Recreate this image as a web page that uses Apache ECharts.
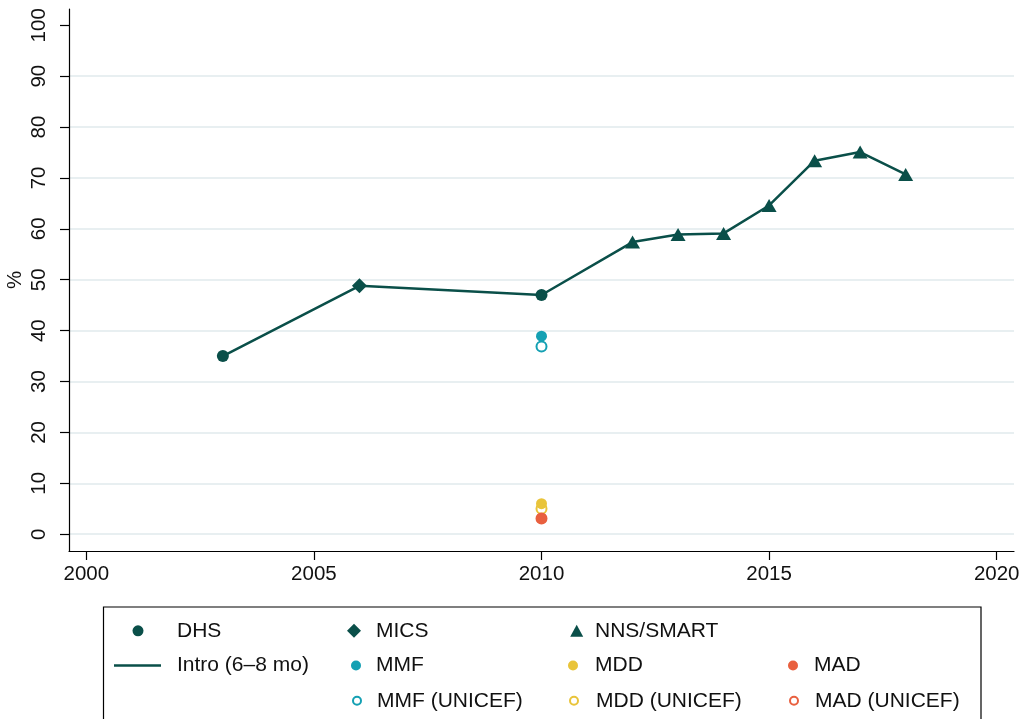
<!DOCTYPE html>
<html>
<head>
<meta charset="utf-8">
<script src="https://cdn.jsdelivr.net/npm/echarts@6/dist/echarts.min.js"></script>
<style>
  html, body { margin: 0; padding: 0; background: #fff; }
  #chart { width: 1021px; height: 719px; }
</style>
</head>
<body>
<div id="chart"></div>
<script>
// Survey estimates, [year, percent]
const dhs = [[2003, 35.0], [2010, 47.0]];
const mics = [[2006, 48.8]];
const nnsSmart = [[2012, 57.4], [2013, 58.9], [2014, 59.1], [2015, 64.6], [2016, 73.4], [2017, 75.1], [2018, 70.7]];
const mmf = [[2010, 38.9]];
const mmfUnicef = [[2010, 36.9]];
const mdd = [[2010, 6.0]];
const mddUnicef = [[2010, 5.0]];
const mad = [[2010, 3.1]];
const madUnicef = [[2010, 3.1]];

// Axis ticks
const xTicks = [2000, 2005, 2010, 2015, 2020];
const yTicks = [0, 10, 20, 30, 40, 50, 60, 70, 80, 90, 100];
const yTitle = '%';

// The introduction trend joins all DHS, MICS and NNS/SMART points in time order
const intro = dhs.concat(mics, nnsSmart).slice().sort((a, b) => a[0] - b[0]);

const DARK = '#0a4f49';
const CYAN = '#14a0b3';
const YELLOW = '#e9c43a';
const RED = '#e9603f';
const FONT = 'Liberation Sans, Arial, Helvetica, sans-serif';

const chart = echarts.init(document.getElementById('chart'), null, { renderer: 'canvas' });

function hollow(color) {
  return { color: '#fff', borderColor: color, borderWidth: 2, opacity: 1 };
}

// One legend block per cell: the icon is centred on cx, the text starts at textX
function legendItem(item, cx, cy, w, h, textX) {
  const left = cx - w / 2;
  return {
    data: [item],
    left: left,
    top: cy - 9,
    orient: 'horizontal',
    padding: 0,
    itemWidth: w,
    itemHeight: h,
    selectedMode: false,
    textStyle: {
      fontFamily: FONT, fontSize: 21, color: '#111',
      padding: [0, 0, 0, Math.max(0, textX - (left + w + 5))]
    }
  };
}

const option = {
  animation: false,
  backgroundColor: '#fff',
  grid: { left: 69, right: 7, top: 9, bottom: 168, containLabel: false, outerBoundsMode: 'none' },
  xAxis: {
    type: 'value',
    min: 1999.62,
    max: 2020.38,
    axisLine: { show: true, onZero: false, lineStyle: { color: '#000', width: 1.2 } },
    axisTick: { show: true, customValues: xTicks, length: 9, lineStyle: { color: '#000', width: 1.2 } },
    axisLabel: {
      customValues: xTicks, margin: 13, fontFamily: FONT, fontSize: 20.5, color: '#111',
      formatter: v => String(Math.round(v))
    },
    splitLine: { show: false }
  },
  yAxis: {
    type: 'value',
    min: -3.3,
    max: 103.2,
    axisLine: { show: true, onZero: false, lineStyle: { color: '#000', width: 1.2 } },
    axisTick: { show: true, customValues: yTicks, length: 9, lineStyle: { color: '#000', width: 1.2 } },
    axisLabel: {
      customValues: yTicks, rotate: 90, margin: 19, fontFamily: FONT, fontSize: 20.5, color: '#111',
      formatter: v => String(Math.round(v))
    },
    splitLine: { show: false }
  },
  legend: [
    legendItem('DHS', 138, 629.3, 11, 11, 177),
    legendItem('MICS', 354, 629.3, 14, 14, 376),
    legendItem('NNS/SMART', 576.7, 629.3, 13, 12, 595),
    legendItem({ name: 'Intro (6\u20138 mo)', icon: 'rect' }, 137.5, 664, 47, 2.5, 177),
    legendItem('MMF', 356, 664, 10, 10, 376),
    legendItem('MDD', 573, 664, 10, 10, 595),
    legendItem('MAD', 793, 664, 10, 10, 814),
    legendItem({ name: 'MMF (UNICEF)', itemStyle: hollow(CYAN) }, 356, 699.3, 8, 8, 376),
    legendItem({ name: 'MDD (UNICEF)', itemStyle: hollow(YELLOW) }, 573, 699.3, 8, 8, 595),
    legendItem({ name: 'MAD (UNICEF)', itemStyle: hollow(RED) }, 793, 699.3, 8, 8, 814)
  ],
  graphic: [
    {
      // legend frame
      type: 'rect',
      shape: { x: 103.5, y: 607, width: 877.5, height: 130 },
      style: { fill: 'none', stroke: '#000', lineWidth: 1.2 },
      silent: true
    },
    {
      // y-axis title, read bottom to top
      type: 'text',
      x: 15,
      y: 280,
      rotation: Math.PI / 2,
      silent: true,
      style: {
        text: yTitle, fill: '#111', font: '20.5px ' + FONT,
        align: 'center', verticalAlign: 'middle'
      }
    }
  ],
  series: [
    {
      // horizontal reference lines at the y ticks below the top one
      name: 'grid',
      type: 'line',
      data: [],
      z: 0,
      silent: true,
      markLine: {
        z: 0,
        silent: true,
        symbol: 'none',
        label: { show: false },
        lineStyle: { color: '#e8eff1', width: 2, type: 'solid' },
        data: yTicks.slice(0, -1).map(v => ({ yAxis: v }))
      }
    },
    {
      name: 'Intro (6\u20138 mo)',
      type: 'line',
      data: intro,
      symbol: 'none',
      color: DARK,
      lineStyle: { color: DARK, width: 2.5 },
      z: 2
    },
    {
      name: 'DHS', type: 'scatter', data: dhs,
      symbol: 'circle', symbolSize: 12, itemStyle: { color: DARK, opacity: 1 }, z: 3
    },
    {
      name: 'MICS', type: 'scatter', data: mics,
      symbol: 'diamond', symbolSize: 15, itemStyle: { color: DARK, opacity: 1 }, z: 3
    },
    {
      name: 'NNS/SMART', type: 'scatter', data: nnsSmart,
      symbol: 'triangle', symbolSize: [15, 13], itemStyle: { color: DARK, opacity: 1 }, z: 3
    },
    {
      name: 'MMF (UNICEF)', type: 'scatter', data: mmfUnicef,
      symbol: 'circle', symbolSize: 10, itemStyle: hollow(CYAN), z: 3
    },
    {
      name: 'MMF', type: 'scatter', data: mmf,
      symbol: 'circle', symbolSize: 11, itemStyle: { color: CYAN, opacity: 1 }, z: 3
    },
    {
      name: 'MDD (UNICEF)', type: 'scatter', data: mddUnicef,
      symbol: 'circle', symbolSize: 10, itemStyle: hollow(YELLOW), z: 3
    },
    {
      name: 'MDD', type: 'scatter', data: mdd,
      symbol: 'circle', symbolSize: 11, itemStyle: { color: YELLOW, opacity: 1 }, z: 3
    },
    {
      name: 'MAD (UNICEF)', type: 'scatter', data: madUnicef,
      symbol: 'circle', symbolSize: 10, itemStyle: hollow(RED), z: 3
    },
    {
      name: 'MAD', type: 'scatter', data: mad,
      symbol: 'circle', symbolSize: 11, itemStyle: { color: RED, opacity: 1 }, z: 3
    }
  ]
};

chart.setOption(option);
</script>
</body>
</html>
